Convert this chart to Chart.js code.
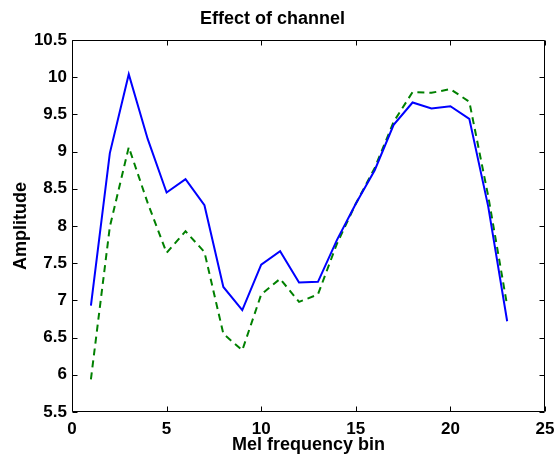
<!DOCTYPE html>
<html>
<head>
<meta charset="utf-8">
<script src="https://cdn.jsdelivr.net/npm/chart.js@4.4.1/dist/chart.umd.min.js"></script>
<style>
  html, body { margin: 0; padding: 0; background: #fff; }
  #wrap { width: 554px; height: 458px; position: relative; }
</style>
</head>
<body>
<div id="wrap"><canvas id="c"></canvas></div>
<script>
// Mel frequency bins (x values)
const bins = [1, 2, 3, 4, 5, 6, 7, 8, 9, 10, 11, 12, 13, 14, 15, 16, 17, 18, 19, 20, 21, 22, 23];
// Solid blue series
const solidSeries = [6.93, 8.98, 10.04, 9.17, 8.45, 8.63, 8.28, 7.18, 6.87, 7.48, 7.66, 7.24, 7.25, 7.81, 8.30, 8.75, 9.36, 9.66, 9.58, 9.61, 9.44, 8.26, 6.72];
// Dashed green series
const dashedSeries = [5.94, 7.99, 9.06, 8.31, 7.64, 7.93, 7.65, 6.55, 6.33, 7.08, 7.29, 6.98, 7.08, 7.76, 8.30, 8.78, 9.40, 9.80, 9.79, 9.84, 9.67, 8.40, 6.93];
// Axis ranges / ticks
const xRange = [0, 25];
const xStep = 5;
const yRange = [5.5, 10.5];
const yStep = 0.5;
const titleText = 'Effect of channel';
const xTitle = 'Mel frequency bin';
const yTitle = 'Amplitude';

const FONT = '"Liberation Sans", Arial, Helvetica, sans-serif';

const toPoints = (xs, ys) => xs.map((x, i) => ({ x: x, y: ys[i] }));

const framePlugin = {
  id: 'frame',
  afterDatasetsDraw(chart) {
    const { ctx, chartArea, scales } = chart;
    const { left, right, top, bottom } = chartArea;
    const L = Math.round(left) + 0.5, R = Math.round(right) - 0.5;
    const T = Math.round(top) + 0.5, B = Math.round(bottom) - 0.5;
    ctx.save();
    ctx.strokeStyle = '#000';
    ctx.lineWidth = 1;
    ctx.beginPath();
    ctx.rect(L, T, R - L, B - T);
    const tl = 5;
    scales.x.ticks.forEach(t => {
      const px = Math.round(scales.x.getPixelForValue(t.value)) + 0.5;
      ctx.moveTo(px, B); ctx.lineTo(px, B - tl);
      ctx.moveTo(px, T); ctx.lineTo(px, T + tl);
    });
    scales.y.ticks.forEach(t => {
      const py = Math.round(scales.y.getPixelForValue(t.value)) + 0.5;
      ctx.moveTo(L, py); ctx.lineTo(L + tl, py);
      ctx.moveTo(R, py); ctx.lineTo(R - tl, py);
    });
    ctx.stroke();
    ctx.restore();
  }
};

new Chart(document.getElementById('c'), {
  type: 'line',
  data: {
    datasets: [
      {
        data: toPoints(bins, solidSeries),
        borderColor: '#0000ff',
        borderWidth: 2,
        pointRadius: 0,
        tension: 0,
        fill: false
      },
      {
        data: toPoints(bins, dashedSeries),
        borderColor: '#008000',
        borderWidth: 2,
        borderDash: [7, 5],
        pointRadius: 0,
        tension: 0,
        fill: false
      }
    ]
  },
  options: {
    responsive: true,
    maintainAspectRatio: false,
    animation: false,
    layout: { padding: { left: 0, right: 9, top: 0, bottom: 0 } },
    plugins: {
      legend: { display: false },
      tooltip: { enabled: false },
      title: {
        display: true,
        text: titleText,
        color: '#000',
        font: { family: FONT, size: 18, weight: 'bold', lineHeight: 1.2 },
        padding: { top: 8, bottom: 10.4 }
      }
    },
    scales: {
      x: {
        type: 'linear',
        min: xRange[0],
        max: xRange[1],
        grid: { display: false, drawTicks: false },
        border: { display: false },
        ticks: {
          stepSize: xStep,
          color: '#000',
          padding: 7,
          maxRotation: 0,
          callback: v => String(v),
          font: { family: FONT, size: 17, weight: 'bold' }
        },
        title: {
          display: true,
          text: xTitle,
          color: '#000',
          font: { family: FONT, size: 18, weight: 'bold', lineHeight: 1.2 },
          padding: { top: 0, bottom: 2 }
        },
        afterFit(scale) {
          scale.height = 46;
          scale.paddingLeft = 0;
          scale.paddingRight = 0;
        }
      },
      y: {
        type: 'linear',
        min: yRange[0],
        max: yRange[1],
        grid: { display: false, drawTicks: false },
        border: { display: false },
        ticks: {
          stepSize: yStep,
          color: '#000',
          padding: 5,
          callback: v => String(v),
          font: { family: FONT, size: 17, weight: 'bold' }
        },
        title: {
          display: true,
          text: yTitle,
          color: '#000',
          font: { family: FONT, size: 18, weight: 'bold', lineHeight: 1.2 },
          padding: { top: 10, bottom: 0 }
        },
        afterFit(scale) {
          scale.width = 72;
          scale.paddingTop = 0;
          scale.paddingBottom = 0;
        }
      }
    }
  },
  plugins: [framePlugin]
});
</script>
</body>
</html>
